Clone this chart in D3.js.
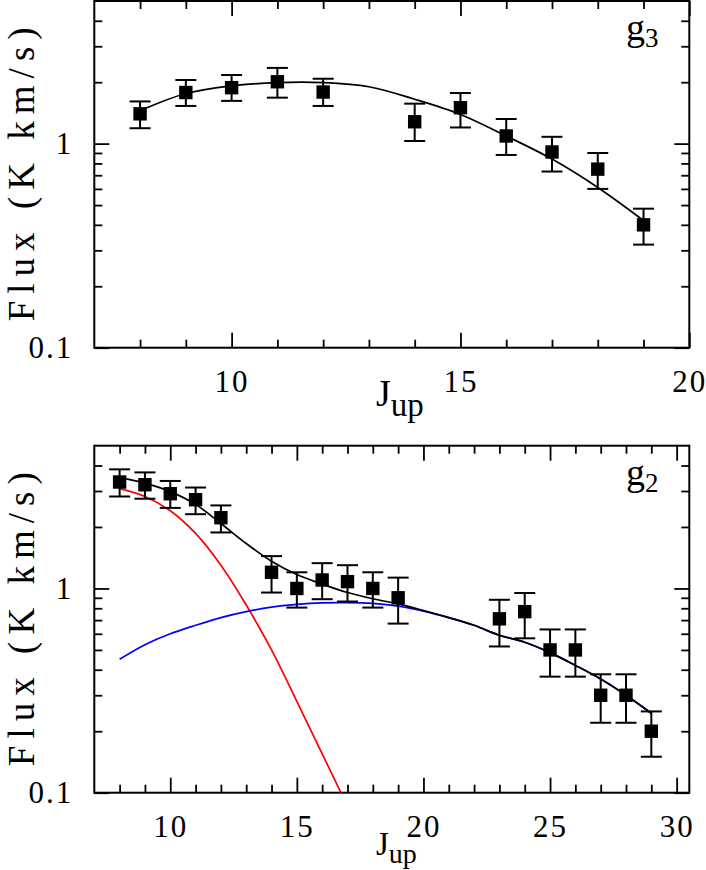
<!DOCTYPE html>
<html>
<head>
<meta charset="utf-8">
<script src="https://cdn.jsdelivr.net/npm/d3@7"></script>
<style>
  body { margin: 0; background: #fff; }
  svg { display: block; }
  text { font-family: "Liberation Serif", "DejaVu Serif", serif; fill: #000; }
</style>
</head>
<body>
<script>
// g3 data (upper panel)
const g3J    = [8, 9, 10, 11, 12, 14, 15, 16, 17, 18, 19];
const g3Flux = [1.40, 1.78, 1.88, 2.01, 1.79, 1.28, 1.50, 1.09, 0.91, 0.75, 0.40];
const g3Lo   = [1.19, 1.53, 1.62, 1.68, 1.53, 1.03, 1.20, 0.88, 0.73, 0.60, 0.32];
const g3Hi   = [1.61, 2.05, 2.17, 2.35, 2.08, 1.57, 1.77, 1.32, 1.08, 0.90, 0.48];
const g3FitJ = [8, 9, 10, 11, 12, 13, 14, 15, 16, 17, 18, 19];
const g3Fit  = [1.45, 1.76, 1.92, 1.99, 1.99, 1.90, 1.65, 1.39, 1.09, 0.84, 0.61, 0.42];

// g2 data (lower panel)
const g2J    = [8, 9, 10, 11, 12, 14, 15, 16, 17, 18, 19, 23, 24, 25, 26, 27, 28, 29];
const g2Flux = [3.32, 3.22, 2.91, 2.72, 2.22, 1.20, 1.00, 1.10, 1.08, 1.00, 0.90, 0.71, 0.77, 0.50, 0.50, 0.30, 0.30, 0.20];
const g2Lo   = [2.82, 2.75, 2.48, 2.31, 1.88, 0.955, 0.806, 0.886, 0.863, 0.806, 0.673, 0.52, 0.57, 0.37, 0.37, 0.22, 0.22, 0.15];
const g2Hi   = [3.83, 3.70, 3.36, 3.12, 2.55, 1.44, 1.20, 1.33, 1.30, 1.20, 1.13, 0.88, 0.95, 0.63, 0.63, 0.38, 0.38, 0.25];
const g2FitJ = [8, 9, 10, 11, 12, 13, 14, 15, 16, 17, 18, 19, 20, 21, 22, 23, 24, 25, 26, 27, 28, 29];
const g2Total = [3.50, 3.28, 2.98, 2.58, 2.08, 1.66, 1.36, 1.17, 1.05, 0.955, 0.89, 0.84, 0.78, 0.72, 0.66, 0.59, 0.545, 0.485, 0.42, 0.36, 0.30, 0.245];
const g2Warm  = [0.45, 0.53, 0.60, 0.66, 0.72, 0.77, 0.81, 0.835, 0.85, 0.853, 0.845, 0.82, 0.775, 0.72, 0.66, 0.59, 0.545, 0.485, 0.42, 0.36, 0.30, 0.245];
const g2ColdJ = [8, 9, 10, 11, 12, 13, 14, 15, 16, 16.74];
const g2Cold  = [3.08, 2.82, 2.40, 1.86, 1.30, 0.83, 0.50, 0.28, 0.155, 0.10];

const yTicksMajor = [0.1, 1];
const yTicksMinor = [0.2, 0.3, 0.4, 0.5, 0.6, 0.7, 0.8, 0.9, 2, 3, 4];

const W = 706, H = 870;
const left = 94.3, right = 689.3;

const svg = d3.select("body").append("svg")
  .attr("width", W)
  .attr("height", H);

const zip = (xs, ys) => xs.map((x, i) => [x, ys[i]]);

function panel(opt) {
  const x = d3.scaleLinear().domain(opt.xDomain).range([left, right]);
  const y = d3.scaleLog().domain([0.1, 5]).range([opt.bottom, opt.top]);
  const g = svg.append("g");

  const clipId = "clip" + opt.name;
  svg.append("clipPath").attr("id", clipId)
    .append("rect")
    .attr("x", left).attr("y", opt.top)
    .attr("width", right - left).attr("height", opt.bottom - opt.top);

  // ticks on all four sides, pointing inward
  const addAxis = (maker, scale, vals, size, tf) => {
    const ax = g.append("g")
      .call(maker(scale).tickValues(vals).tickSizeInner(-size).tickSizeOuter(0).tickFormat(tf || ""));
    ax.select(".domain").remove();
    ax.selectAll(".tick line").attr("stroke", "#000").attr("stroke-width", 1.8);
    return ax;
  };

  const bAxisMaj = addAxis(d3.axisBottom, x, opt.xMajor, 15, d3.format("d"))
    .attr("transform", `translate(0,${opt.bottom})`);
  bAxisMaj.selectAll(".tick text")
    .attr("y", 44.5).attr("dy", 0)
    .style("font-size", "31px")
    .style("letter-spacing", "2px");
  addAxis(d3.axisBottom, x, opt.xMinor, 8).attr("transform", `translate(0,${opt.bottom})`);
  addAxis(d3.axisTop, x, opt.xMajor, 15).attr("transform", `translate(0,${opt.top})`);
  addAxis(d3.axisTop, x, opt.xMinor, 8).attr("transform", `translate(0,${opt.top})`);

  const lAxisMaj = addAxis(d3.axisLeft, y, yTicksMajor, 15, d3.format("")).attr("transform", `translate(${left},0)`);
  lAxisMaj.selectAll(".tick text")
    .attr("x", -21).attr("dy", "0.33em")
    .style("font-size", "31px")
    .style("letter-spacing", "2px")
    .attr("text-anchor", "end");
  addAxis(d3.axisLeft, y, yTicksMinor, 8).attr("transform", `translate(${left},0)`);
  addAxis(d3.axisRight, y, yTicksMajor, 15).attr("transform", `translate(${right},0)`);
  addAxis(d3.axisRight, y, yTicksMinor, 8).attr("transform", `translate(${right},0)`);

  svg.selectAll(".tick text").attr("fill", "#000").style("font-family", "'Liberation Serif', serif");

  // frame
  g.append("rect")
    .attr("x", left).attr("y", opt.top)
    .attr("width", right - left).attr("height", opt.bottom - opt.top)
    .attr("fill", "none").attr("stroke", "#000").attr("stroke-width", 2);

  const line = d3.line()
    .x(d => x(d[0])).y(d => y(d[1]))
    .curve(d3.curveCatmullRom.alpha(0.5));

  const curves = g.append("g").attr("clip-path", `url(#${clipId})`);
  opt.curves.forEach(c => {
    curves.append("path")
      .attr("d", line(zip(c.xs, c.ys)))
      .attr("fill", "none")
      .attr("stroke", c.color)
      .attr("stroke-width", 1.7);
  });

  // error bars and markers
  const pts = opt.J.map((j, i) => ({ j, v: opt.flux[i], lo: opt.lo[i], hi: opt.hi[i] }));
  const eb = g.append("g").attr("stroke", "#000").attr("stroke-width", 2);
  eb.selectAll(".v").data(pts).enter().append("line")
    .attr("x1", d => x(d.j)).attr("x2", d => x(d.j))
    .attr("y1", d => y(d.lo)).attr("y2", d => y(d.hi));
  eb.selectAll(".ct").data(pts).enter().append("line")
    .attr("x1", d => x(d.j) - 10.5).attr("x2", d => x(d.j) + 10.5)
    .attr("y1", d => y(d.hi)).attr("y2", d => y(d.hi));
  eb.selectAll(".cb").data(pts).enter().append("line")
    .attr("x1", d => x(d.j) - 10.5).attr("x2", d => x(d.j) + 10.5)
    .attr("y1", d => y(d.lo)).attr("y2", d => y(d.lo));
  g.selectAll(".sq").data(pts).enter().append("rect")
    .attr("x", d => x(d.j) - 6.7).attr("y", d => y(d.v) - 6.7)
    .attr("width", 13.4).attr("height", 13.4)
    .attr("fill", "#000");

  // labels
  const yc = (opt.top + opt.bottom) / 2;
  g.append("text")
    .attr("transform", `translate(34,${yc}) rotate(-90)`)
    .attr("text-anchor", "middle")
    .attr("textLength", 294)
    .attr("lengthAdjust", "spacing")
    .style("font-size", "37px")
    .text("Flux (K km/s)");

  const jt = g.append("text")
    .attr("x", 376)
    .attr("y", opt.bottom + opt.jDy)
    .style("font-size", opt.jSize);
  jt.append("tspan").text("J");
  jt.append("tspan").attr("dy", opt.subDy).style("font-size", opt.subSize).text("up");

  const gt = g.append("text")
    .attr("x", 626)
    .attr("y", opt.top + 39)
    .style("font-size", "38px");
  gt.append("tspan").text("g");
  gt.append("tspan").attr("dy", 7).style("font-size", "27px").text(opt.sub);
}

panel({
  name: "g3", top: 1, bottom: 347.7,
  xDomain: [7, 20],
  xMajor: [10, 15, 20],
  xMinor: d3.range(8, 20).filter(v => v % 5 !== 0),
  J: g3J, flux: g3Flux, lo: g3Lo, hi: g3Hi,
  curves: [{ xs: g3FitJ, ys: g3Fit, color: "#000" }],
  jDy: 58, jSize: "38px", subDy: 10, subSize: "33px", sub: "3"
});

panel({
  name: "g2", top: 445.7, bottom: 792.7,
  xDomain: [7, 30.5],
  xMajor: [10, 15, 20, 25, 30],
  xMinor: d3.range(8, 30).filter(v => v % 5 !== 0),
  J: g2J, flux: g2Flux, lo: g2Lo, hi: g2Hi,
  curves: [
    { xs: g2ColdJ, ys: g2Cold, color: "#ff0000" },
    { xs: g2FitJ, ys: g2Warm, color: "#0000ff" },
    { xs: g2FitJ, ys: g2Total, color: "#000" }
  ],
  jDy: 62, jSize: "33px", subDy: 8, subSize: "28px", sub: "2"
});
</script>
</body>
</html>
